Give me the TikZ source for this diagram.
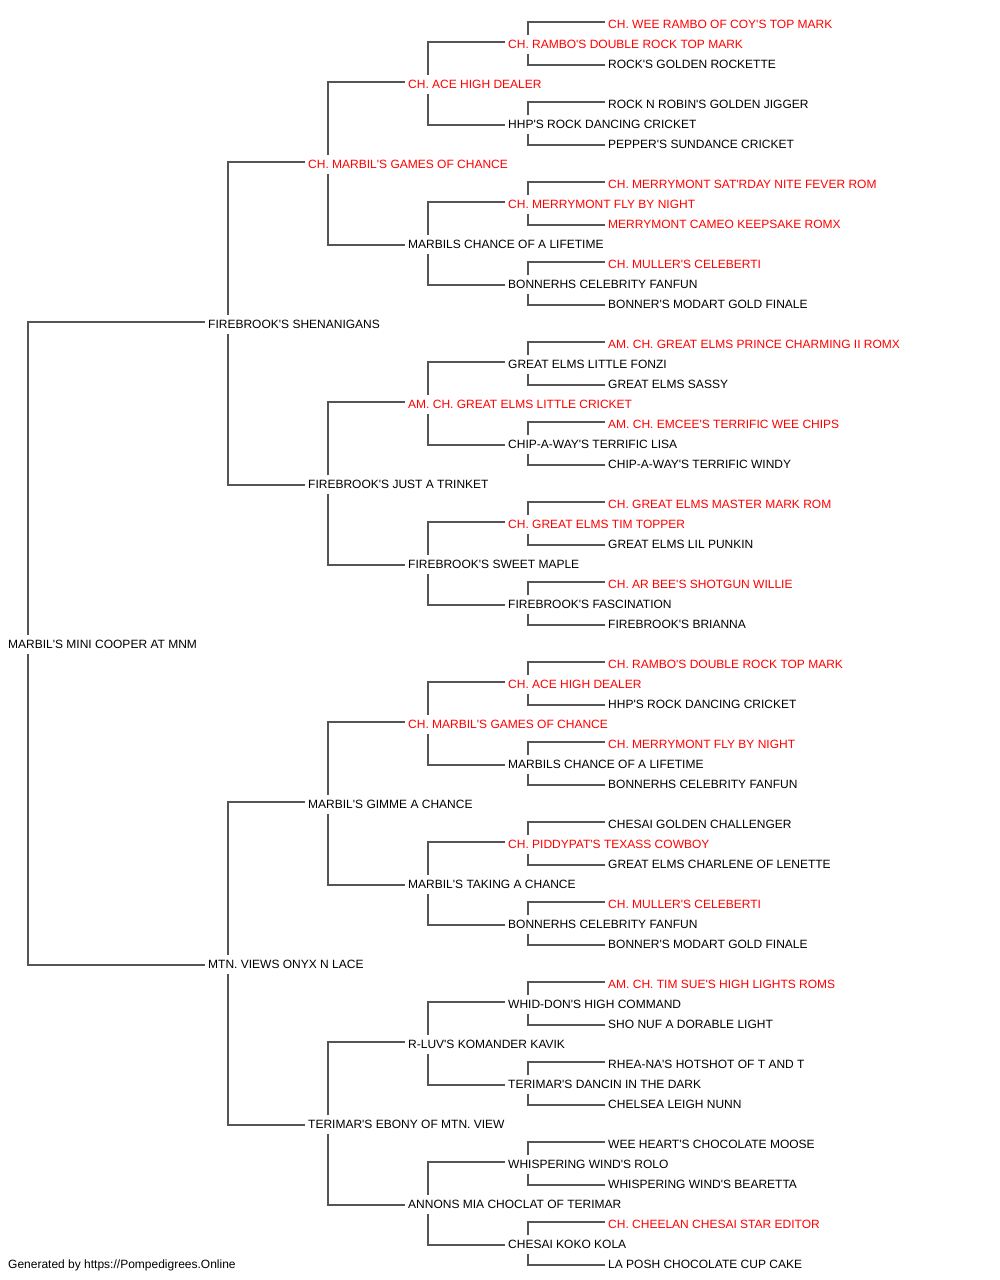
\documentclass[tikz,border=0pt]{standalone}
\usepackage{fontspec}
\setmainfont{Liberation Sans}[Ligatures=TeXOff]
\usetikzlibrary{calc}
\definecolor{pedred}{RGB}{255,0,0}
\definecolor{pedline}{RGB}{85,85,85}
\begin{document}
\begin{tikzpicture}[x=1pt,y=-1pt,
  lbl/.style={anchor=west,inner sep=0pt,text height=8.6pt,text depth=0pt,font=\fontsize{12}{14}\selectfont},
  conn/.style={draw=pedline,line width=1.1pt}]
\useasboundingbox (0,0) rectangle (1000,1280);
% generation 5
\foreach \t/\c [count=\i from 0] in {
 CH. WEE RAMBO OF COY'S TOP MARK/pedred,
 ROCK'S GOLDEN ROCKETTE/black,
 ROCK N ROBIN'S GOLDEN JIGGER/black,
 PEPPER'S SUNDANCE CRICKET/black,
 CH. MERRYMONT SAT'RDAY NITE FEVER ROM/pedred,
 MERRYMONT CAMEO KEEPSAKE ROMX/pedred,
 CH. MULLER'S CELEBERTI/pedred,
 BONNER'S MODART GOLD FINALE/black,
 AM. CH. GREAT ELMS PRINCE CHARMING II ROMX/pedred,
 GREAT ELMS SASSY/black,
 AM. CH. EMCEE'S TERRIFIC WEE CHIPS/pedred,
 CHIP-A-WAY'S TERRIFIC WINDY/black,
 CH. GREAT ELMS MASTER MARK ROM/pedred,
 GREAT ELMS LIL PUNKIN/black,
 CH. AR BEE'S SHOTGUN WILLIE/pedred,
 FIREBROOK'S BRIANNA/black,
 CH. RAMBO'S DOUBLE ROCK TOP MARK/pedred,
 HHP'S ROCK DANCING CRICKET/black,
 CH. MERRYMONT FLY BY NIGHT/pedred,
 BONNERHS CELEBRITY FANFUN/black,
 CHESAI GOLDEN CHALLENGER/black,
 GREAT ELMS CHARLENE OF LENETTE/black,
 CH. MULLER'S CELEBERTI/pedred,
 BONNER'S MODART GOLD FINALE/black,
 AM. CH. TIM SUE'S HIGH LIGHTS ROMS/pedred,
 SHO NUF A DORABLE LIGHT/black,
 RHEA-NA'S HOTSHOT OF T AND T/black,
 CHELSEA LEIGH NUNN/black,
 WEE HEART'S CHOCOLATE MOOSE/black,
 WHISPERING WIND'S BEARETTA/black,
 CH. CHEELAN CHESAI STAR EDITOR/pedred,
 LA POSH CHOCOLATE CUP CAKE/black}
 {\node[lbl,text=\c] (g5-\i) at (608,{24+40*\i}) {\t};}
% generation 4
\foreach \t/\c [count=\i from 0] in {
 CH. RAMBO'S DOUBLE ROCK TOP MARK/pedred,
 HHP'S ROCK DANCING CRICKET/black,
 CH. MERRYMONT FLY BY NIGHT/pedred,
 BONNERHS CELEBRITY FANFUN/black,
 GREAT ELMS LITTLE FONZI/black,
 CHIP-A-WAY'S TERRIFIC LISA/black,
 CH. GREAT ELMS TIM TOPPER/pedred,
 FIREBROOK'S FASCINATION/black,
 CH. ACE HIGH DEALER/pedred,
 MARBILS CHANCE OF A LIFETIME/black,
 CH. PIDDYPAT'S TEXASS COWBOY/pedred,
 BONNERHS CELEBRITY FANFUN/black,
 WHID-DON'S HIGH COMMAND/black,
 TERIMAR'S DANCIN IN THE DARK/black,
 WHISPERING WIND'S ROLO/black,
 CHESAI KOKO KOLA/black}
 {\node[lbl,text=\c] (g4-\i) at (508,{44+80*\i}) {\t};}
% generation 3
\foreach \t/\c [count=\i from 0] in {
 CH. ACE HIGH DEALER/pedred,
 MARBILS CHANCE OF A LIFETIME/black,
 AM. CH. GREAT ELMS LITTLE CRICKET/pedred,
 FIREBROOK'S SWEET MAPLE/black,
 CH. MARBIL'S GAMES OF CHANCE/pedred,
 MARBIL'S TAKING A CHANCE/black,
 R-LUV'S KOMANDER KAVIK/black,
 ANNONS MIA CHOCLAT OF TERIMAR/black}
 {\node[lbl,text=\c] (g3-\i) at (408,{84+160*\i}) {\t};}
% generation 2
\foreach \t/\c [count=\i from 0] in {
 CH. MARBIL'S GAMES OF CHANCE/pedred,
 FIREBROOK'S JUST A TRINKET/black,
 MARBIL'S GIMME A CHANCE/black,
 TERIMAR'S EBONY OF MTN. VIEW/black}
 {\node[lbl,text=\c] (g2-\i) at (308,{164+320*\i}) {\t};}
% generation 1
\node[lbl] (g1-0) at (208,324) {FIREBROOK'S SHENANIGANS};
\node[lbl] (g1-1) at (208,964) {MTN. VIEWS ONYX N LACE};
% root
\node[lbl] (g0-0) at (8,644) {MARBIL'S MINI COOPER AT MNM};
% footer
\node[lbl] (footer) at (8,1264) {Generated by https://Pompedigrees.Online};
% connectors
\foreach \p/\ch/\n in {4/5/15, 3/4/7, 2/3/3, 1/2/1, 0/1/0}{
  \foreach \i in {0,...,\n}{
    \pgfmathtruncatemacro\a{2*\i}
    \pgfmathtruncatemacro\b{2*\i+1}
    \draw[conn] ($(g\ch-\a.west)+(-3pt,2pt)$) -| ($(g\p-\i.west)+(20pt,9pt)$);
    \draw[conn] ($(g\ch-\b.west)+(-3pt,-1pt)$) -| ($(g\p-\i.west)+(20pt,-10pt)$);
  }
}
\end{tikzpicture}
\end{document}
